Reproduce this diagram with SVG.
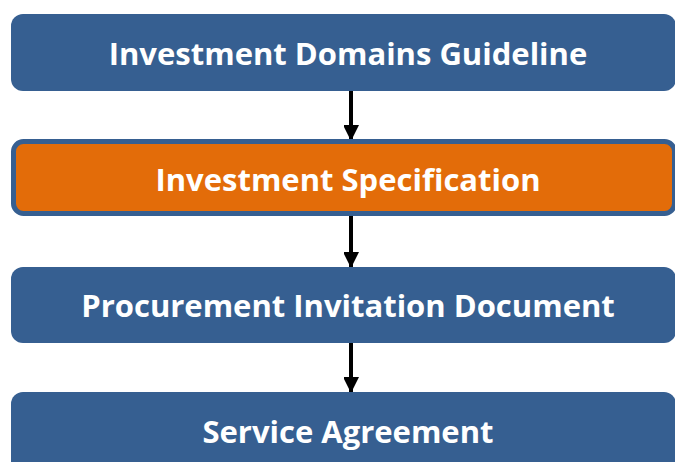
<svg xmlns="http://www.w3.org/2000/svg" width="675" height="462" viewBox="0 0 675 462">
<defs>
<style>
.box{fill:#365F91;}
.lbl{font-family:"Open Sans","Liberation Sans",sans-serif;font-weight:bold;font-size:31px;fill:#FFFFFF;text-anchor:middle;}
.conn{stroke:#000000;stroke-width:4;fill:none;}
</style>
<marker id="ah" markerUnits="userSpaceOnUse" markerWidth="16" markerHeight="15" refX="16" refY="8" orient="auto">
<path d="M0,0 L16,8 L0,16 Z" fill="#000000"/>
</marker>
</defs>
<rect width="675" height="462" fill="#FFFFFF"/>
<g id="connectors">
<line class="conn" x1="351" y1="91" x2="351" y2="141" marker-end="url(#ah)"/>
<line class="conn" x1="351" y1="216" x2="351" y2="268" marker-end="url(#ah)"/>
<line class="conn" x1="351" y1="343" x2="351" y2="393" marker-end="url(#ah)"/>
</g>
<g id="node1">
<rect class="box" x="11" y="14" width="665" height="77" rx="12"/>
<text class="lbl" x="348" y="65">Investment Domains Guideline</text>
</g>
<g id="node2">
<rect x="13.5" y="141.5" width="661" height="72" rx="10" fill="#E36C09" stroke="#365F91" stroke-width="5"/>
<text class="lbl" x="348" y="191">Investment Specification</text>
</g>
<g id="node3">
<rect class="box" x="11" y="267" width="665" height="76" rx="12"/>
<text class="lbl" x="348" y="317">Procurement Invitation Document</text>
</g>
<g id="node4">
<rect class="box" x="11" y="392" width="665" height="90" rx="12"/>
<text class="lbl" x="348" y="443">Service Agreement</text>
</g>
</svg>
